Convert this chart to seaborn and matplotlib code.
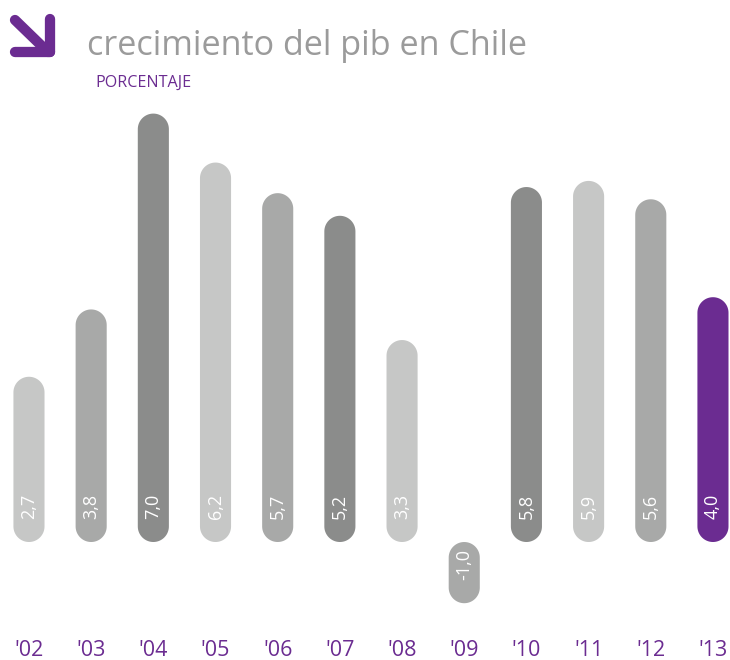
import numpy as np
import pandas as pd
import seaborn as sns
import matplotlib
matplotlib.use("Agg")
from matplotlib import pyplot as plt
from matplotlib.patches import Polygon
from matplotlib.lines import Line2D

years = ["'02", "'03", "'04", "'05", "'06", "'07", "'08", "'09", "'10", "'11", "'12", "'13"]
# bar heights as drawn in the picture ('07 is drawn a bit taller than its 5,2 label)
growth = [2.7, 3.8, 7.0, 6.2, 5.7, 5.33, 3.3, -1.0, 5.8, 5.9, 5.6, 4.0]
value_labels = ["2,7", "3,8", "7,0", "6,2", "5,7", "5,2", "3,3", "-1,0", "5,8", "5,9", "5,6", "4,0"]

light, mid, dark = "#c6c7c6", "#a8a9a8", "#8b8c8b"
purple = "#6b2c91"
bar_colors = [light, mid, dark] * 3 + [light, mid, purple]

df = pd.DataFrame({"year": years, "pib": growth})

sns.set_style("white")
plt.rcParams["font.family"] = ["Open Sans", "DejaVu Sans"]

fig = plt.figure(figsize=(7.3, 6.6), dpi=100)
# axes in pixels: full width, from 35 px to 560 px above the bottom
ax = fig.add_axes([0, 35 / 660, 1, 525 / 660])

sns.barplot(data=df, x="year", y="pib", hue="year", palette=bar_colors,
            legend=False, width=0.5, ax=ax, saturation=1)

ax.set_xlim(-0.466, 11.274)
ax.set_ylim(-1.356, 7.222)

# turn bars into pills with round ends
fig.canvas.draw()
px_x = ax.transData.transform((1, 0))[0] - ax.transData.transform((0, 0))[0]
px_y = ax.transData.transform((0, 1))[1] - ax.transData.transform((0, 0))[1]
t = np.linspace(0, np.pi, 40)
for p in list(ax.patches):
    x0, w = p.get_x(), p.get_width()
    y0, h = p.get_y(), p.get_height()
    if h < 0:
        y0, h = y0 + h, -h
    rx = w / 2
    ry = rx * px_x / px_y
    cx = x0 + rx
    top = np.column_stack([cx + rx * np.cos(t), y0 + h - ry + ry * np.sin(t)])
    bot = np.column_stack([cx - rx * np.cos(t), y0 + ry - ry * np.sin(t)])
    pill = Polygon(np.vstack([top, bot]), closed=True, facecolor=p.get_facecolor(),
                   edgecolor="none", linewidth=0)
    p.remove()
    ax.add_patch(pill)

# value labels near the lower end of each bar
off = 23 / px_y
for i, (v, lab) in enumerate(zip(growth, value_labels)):
    base = min(v, 0)
    ax.text(i, base + off, lab, rotation=90, ha="center", va="bottom",
            color="white", fontsize=13)

ax.set_xlabel("")
ax.set_ylabel("")
ax.set_yticks([])
ax.tick_params(axis="x", length=0, pad=11, labelsize=15.5, labelcolor=purple)
sns.despine(ax=ax, left=True, bottom=True)

# title block
fig.text(87 / 730, 1 - 55 / 660, "crecimiento del pib en Chile", color="#9b9b9b",
         fontsize=24.6, va="baseline", ha="left")
fig.text(95 / 730, 1 - 87 / 660, "PORCENTAJE", color=purple, fontsize=11.6,
         va="baseline", ha="left")

# arrow icon
def fpt(x, y):
    return x / 730, 1 - y / 660

for (xa, ya), (xb, yb) in [((15, 20), (48, 52)), ((50, 19), (50, 52)), ((15, 52), (50, 52))]:
    (x1, y1), (x2, y2) = fpt(xa, ya), fpt(xb, yb)
    fig.add_artist(Line2D([x1, x2], [y1, y2], transform=fig.transFigure, color=purple,
                          linewidth=7.4, solid_capstyle="round"))

fig.savefig("out.png", dpi=100)
